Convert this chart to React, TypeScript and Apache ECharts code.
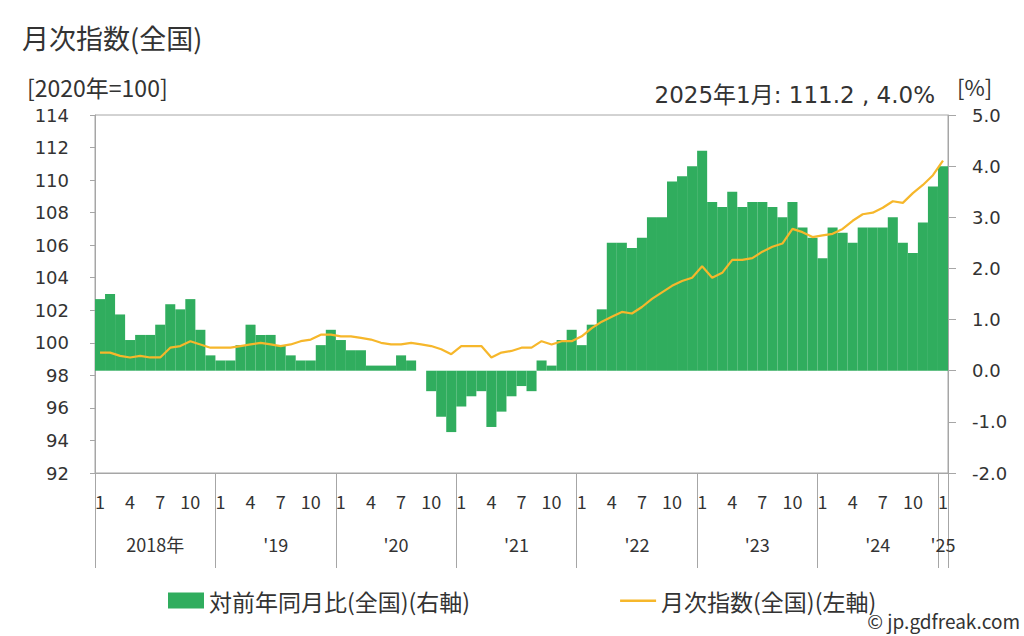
import React, { useEffect, useRef } from "react";
import * as echarts from "echarts";

// ---- data ----
const years = ["2018", "2019", "2020", "2021", "2022", "2023", "2024", "2025"];
const yearLabels = ["2018年", "'19", "'20", "'21", "'22", "'23", "'24", "'25"];
const monthLabelsShown = [1, 4, 7, 10];

// 対前年同月比(全国) [%] (right axis)
const yoy2018 = [1.4, 1.5, 1.1, 0.6, 0.7, 0.7, 0.9, 1.3, 1.2, 1.4, 0.8, 0.3];
const yoy2019 = [0.2, 0.2, 0.5, 0.9, 0.7, 0.7, 0.5, 0.3, 0.2, 0.2, 0.5, 0.8];
const yoy2020 = [0.6, 0.4, 0.4, 0.1, 0.1, 0.1, 0.3, 0.2, 0.0, -0.4, -0.9, -1.2];
const yoy2021 = [-0.7, -0.5, -0.4, -1.1, -0.8, -0.5, -0.3, -0.4, 0.2, 0.1, 0.6, 0.8];
const yoy2022 = [0.5, 0.9, 1.2, 2.5, 2.5, 2.4, 2.6, 3.0, 3.0, 3.7, 3.8, 4.0];
const yoy2023 = [4.3, 3.3, 3.2, 3.5, 3.2, 3.3, 3.3, 3.2, 3.0, 3.3, 2.8, 2.6];
const yoy2024 = [2.2, 2.8, 2.7, 2.5, 2.8, 2.8, 2.8, 3.0, 2.5, 2.3, 2.9, 3.6];
const yoy2025 = [4.0];

// 月次指数(全国) [2020年=100] (left axis)
const idx2018 = [99.4, 99.4, 99.2, 99.1, 99.2, 99.1, 99.1, 99.7, 99.8, 100.1, 99.9, 99.7];
const idx2019 = [99.7, 99.7, 99.8, 99.9, 100.0, 99.9, 99.8, 99.9, 100.1, 100.2, 100.5, 100.5];
const idx2020 = [100.4, 100.4, 100.3, 100.2, 100.0, 99.9, 99.9, 100.0, 99.9, 99.8, 99.6, 99.3];
const idx2021 = [99.8, 99.8, 99.8, 99.1, 99.4, 99.5, 99.7, 99.7, 100.1, 99.9, 100.1, 100.1];
const idx2022 = [100.4, 100.9, 101.3, 101.6, 101.9, 101.8, 102.2, 102.7, 103.1, 103.5, 103.8, 104.0];
const idx2023 = [104.7, 104.0, 104.3, 105.1, 105.1, 105.2, 105.6, 105.9, 106.1, 107.0, 106.8, 106.5];
const idx2024 = [106.6, 106.7, 107.0, 107.5, 107.9, 108.0, 108.3, 108.7, 108.6, 109.2, 109.7, 110.3];
const idx2025 = [111.2];

const yoyByYear = [yoy2018, yoy2019, yoy2020, yoy2021, yoy2022, yoy2023, yoy2024, yoy2025];
const idxByYear = [idx2018, idx2019, idx2020, idx2021, idx2022, idx2023, idx2024, idx2025];

const barName = "対前年同月比(全国)(右軸)";
const lineName = "月次指数(全国)(左軸)";

// ---- derived ----
const categories: string[] = [];
const yearCenters: { pos: number; label: string }[] = [];
yoyByYear.forEach((arr, yi) => {
  const start = categories.length;
  arr.forEach((_, mi) => categories.push(`${years[yi]}/${mi + 1}`));
  yearCenters.push({ pos: start + arr.length / 2, label: yearLabels[yi] });
});
const yoyData = yoyByYear.flat();
const idxData = idxByYear.flat();
const nCat = categories.length;

const lastCat = categories[nCat - 1].split("/");
const annotation = `${lastCat[0]}年${lastCat[1]}月: ${idxData[nCat - 1].toFixed(1)} , ${yoyData[nCat - 1].toFixed(1)}%`;

const JP = "'Noto Sans CJK JP', 'Noto Sans', sans-serif";
const NUM = "'DejaVu Sans', 'Noto Sans CJK JP', sans-serif";
const AXIS_COLOR = "#a6a6a6";
const TEXT = "#333333";
const GREEN = "#30ad5e";
const YELLOW = "#f6b72b";

export default function App() {
  const ref = useRef<HTMLDivElement>(null);

  useEffect(() => {
    if (!ref.current) return;
    const chart = echarts.init(ref.current, undefined, { renderer: "svg" });
    const gridRect = { left: 95, right: 76, top: 115, bottom: 163 };
    chart.setOption({
      animation: false,
      textStyle: { fontFamily: JP },
      grid: [
        { ...gridRect, show: true, borderColor: AXIS_COLOR, borderWidth: 1 },
        { ...gridRect, show: false },
      ],
      xAxis: [
        {
          type: "category",
          gridIndex: 0,
          data: categories,
          boundaryGap: true,
          axisLine: { show: true, onZero: false, lineStyle: { color: AXIS_COLOR } },
          axisTick: {
            show: true,
            inside: false,
            interval: (i: number) => i % 12 === 0,
            length: 95,
            lineStyle: { color: AXIS_COLOR },
          },
          axisLabel: {
            interval: (i: number, v: string) => monthLabelsShown.includes(Number(v.split("/")[1])),
            formatter: (v: string) => v.split("/")[1],
            margin: 19,
            fontSize: 18,
            color: TEXT,
            fontFamily: JP,
          },
          splitLine: { show: false },
        },
        {
          type: "value",
          gridIndex: 1,
          min: 0,
          max: nCat,
          interval: 0.5,
          axisLine: { show: false, onZero: false },
          axisTick: { show: false },
          splitLine: { show: false },
          axisLabel: {
            margin: 62,
            fontSize: 18,
            color: TEXT,
            fontFamily: JP,
            formatter: (v: number) => {
              const f = yearCenters.find((c) => Math.abs(c.pos - v) < 0.01);
              return f ? f.label : "";
            },
          },
        },
      ],
      yAxis: [
        {
          type: "value",
          gridIndex: 0,
          position: "left",
          min: 92,
          max: 114,
          interval: 2,
          axisLine: { show: true, lineStyle: { color: AXIS_COLOR } },
          axisTick: { show: true, length: 5, lineStyle: { color: AXIS_COLOR } },
          splitLine: { show: false },
          axisLabel: { margin: 26, fontSize: 18, color: TEXT, fontFamily: NUM },
        },
        {
          type: "value",
          gridIndex: 0,
          position: "right",
          min: -2,
          max: 5,
          interval: 1,
          axisLine: { show: true, lineStyle: { color: AXIS_COLOR } },
          axisTick: { show: true, length: 8, lineStyle: { color: AXIS_COLOR } },
          splitLine: { show: false },
          axisLabel: {
            margin: 24,
            fontSize: 18,
            color: TEXT,
            fontFamily: NUM,
            formatter: (v: number) => v.toFixed(1),
          },
        },
        { type: "value", gridIndex: 1, show: false, min: 0, max: 1 },
      ],
      legend: {
        left: 163,
        top: 584,
        itemWidth: 36,
        itemHeight: 16,
        itemGap: 150,
        textStyle: { fontSize: 23, color: TEXT, fontFamily: JP },
        data: [
          { name: barName, icon: "rect", itemStyle: { color: GREEN } },
          {
            name: lineName,
            icon: "path://M0,0 M0,7 L36,7 L36,9.5 L0,9.5 Z M36,16",
            itemStyle: { color: YELLOW, borderWidth: 0 },
          },
        ],
      },
      series: [
        {
          name: barName,
          type: "bar",
          xAxisIndex: 0,
          yAxisIndex: 1,
          data: yoyData,
          barCategoryGap: "0%",
          barGap: "0%",
          itemStyle: { color: GREEN },
        },
        {
          name: lineName,
          type: "line",
          xAxisIndex: 0,
          yAxisIndex: 0,
          data: idxData,
          symbol: "none",
          z: 5,
          lineStyle: { color: YELLOW, width: 2.2 },
          itemStyle: { color: YELLOW },
        },
      ],
      graphic: [
        {
          type: "text",
          left: 22,
          top: 24,
          style: { text: "月次指数(全国)", fontSize: 27, fill: TEXT, fontFamily: JP },
        },
        {
          type: "text",
          left: 27,
          top: 75,
          style: { text: "[2020年=100]", fontSize: 23, fill: TEXT, fontFamily: JP },
        },
        {
          type: "text",
          right: 89,
          top: 83,
          style: { text: annotation, fontSize: 23, fill: TEXT, fontFamily: NUM },
        },
        {
          type: "text",
          left: 957,
          top: 75,
          style: { text: "[%]", fontSize: 22, fill: TEXT, fontFamily: JP },
        },
        {
          type: "text",
          right: 4,
          top: 611,
          style: { text: "© jp.gdfreak.com", fontSize: 19, fill: TEXT, fontFamily: JP },
        },
      ],
    });
    return () => chart.dispose();
  }, []);

  return (
    <div
      ref={ref}
      style={{ position: "fixed", left: 0, top: 0, width: 1024, height: 636, background: "#fff" }}
    />
  );
}
